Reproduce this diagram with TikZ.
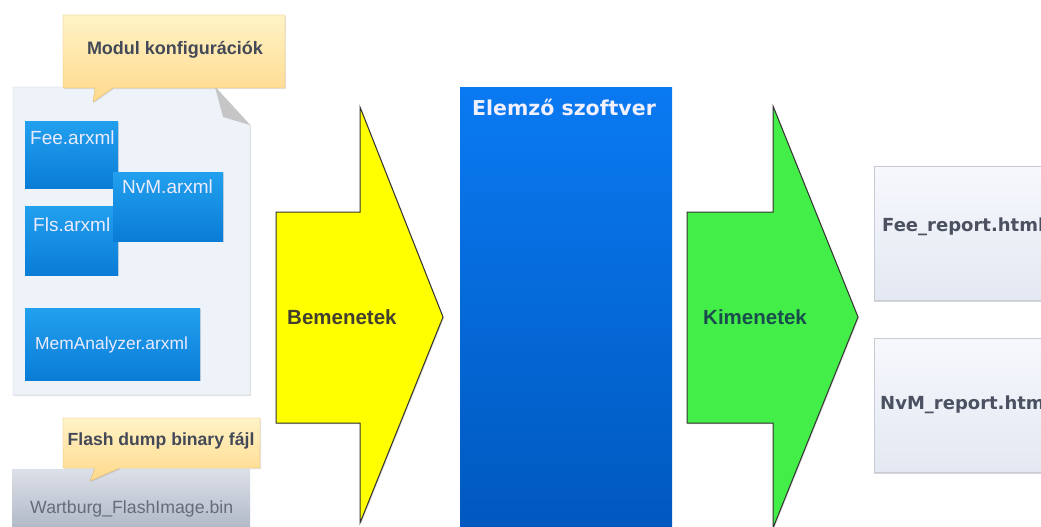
\documentclass[tikz,border=0pt]{standalone}
\usepackage{fontspec}
\setmainfont{Liberation Sans}
\newfontfamily\dejavu{DejaVu Sans}
\usetikzlibrary{shadows}

\definecolor{pageFill}{HTML}{EEF2F9}
\definecolor{pageLine}{HTML}{C6CBD4}
\definecolor{tipTop}{HTML}{FFF3C6}
\definecolor{tipBot}{HTML}{FFD98C}
\definecolor{tipLine}{HTML}{E6B96C}
\definecolor{fileTop}{HTML}{22A0EE}
\definecolor{fileBot}{HTML}{0A7CD6}
\definecolor{binTop}{HTML}{DCE0E8}
\definecolor{binBot}{HTML}{A9B1C1}
\definecolor{swTop}{HTML}{0A7AF2}
\definecolor{swBot}{HTML}{0058BE}
\definecolor{inFill}{HTML}{FFFF00}
\definecolor{outFill}{HTML}{44EE48}
\definecolor{repTop}{HTML}{F6F8FC}
\definecolor{repBot}{HTML}{E3E8F2}
\definecolor{grayText}{HTML}{4B5161}

\tikzset{
  filebox/.style={draw=none, top color=fileTop, bottom color=fileBot, anchor=north west, inner sep=0pt,
    drop shadow={shadow xshift=1pt, shadow yshift=-1pt, opacity=0.25}},
  filetext/.style={text=white!92!blue, anchor=north west, inner sep=0pt, font=\fontsize{19}{19}\selectfont},
  tipbox/.style={draw=tipLine, top color=tipTop, bottom color=tipBot,
    drop shadow={shadow xshift=1pt, shadow yshift=-1pt, opacity=0.2}},
  tiptext/.style={text=grayText!90!black, inner sep=0pt, font=\bfseries\fontsize{18}{18}\selectfont},
  reportbox/.style={draw=pageLine, top color=repTop, bottom color=repBot,
    drop shadow={shadow xshift=0pt, shadow yshift=-2pt, opacity=0.3}},
  reporttext/.style={text=grayText, anchor=west, inner sep=0pt, font=\dejavu\bfseries\fontsize{18}{18}\selectfont},
  arrowtext/.style={anchor=west, inner sep=0pt, font=\bfseries\fontsize{20.5}{20.5}\selectfont}
}

\begin{document}
\begin{tikzpicture}[x=1pt, y=-1pt]
    \useasboundingbox (0,0) rectangle (1041,527);
    \clip (0,0) rectangle (1041,527);
    \fill[white] (0,0) rectangle (1041,527);

    % Input page with config files
    \draw[pageLine, fill=pageFill, drop shadow={shadow xshift=1pt, shadow yshift=-1pt, opacity=0.2}]
        (13,87) -- (215,87) -- (250,125) -- (250,395) -- (13,395) -- cycle;
    \fill[gray!45] (215,87) -- (250,125) -- (223,117) -- cycle;

    \node[filebox, minimum width=93pt, minimum height=67pt] (fee) at (25,121) {};
    \node[filebox, minimum width=93pt, minimum height=69pt] (fls) at (25,206) {};
    \node[filebox, minimum width=110pt, minimum height=69pt] (nvm) at (113,172) {};
    \node[filebox, minimum width=175pt, minimum height=72pt] (mem) at (25,308) {};
    \node[filetext] (feetxt) at (30,131) {Fee.arxml};
    \node[filetext] (flstxt) at (33,218) {Fls.arxml};
    \node[filetext] (nvmtxt) at (122,180) {NvM.arxml};
    \node[filetext, font=\fontsize{17.4}{17.4}\selectfont] (memtxt) at (35,337) {MemAnalyzer.arxml};

    % Callout over the page
    \draw[tipbox] (63,15) -- (285,15) -- (285,88) -- (113,88) -- (93,102) -- (95,88) -- (63,88) -- cycle;
    \node[tiptext] (modcfg) at (175,50) {Modul konfigurációk};

    % Binary dump
    \node[draw=none, top color=binTop, bottom color=binBot, anchor=north west, inner sep=0pt,
          minimum width=238pt, minimum height=70pt] (binbox) at (12,469) {};
    \node[text=grayText!85, anchor=west, inner sep=0pt, font=\fontsize{17.7}{17.7}\selectfont] (bintxt) at (30,509) {Wartburg\_FlashImage.bin};
    \draw[tipbox] (63,418) -- (260,418) -- (260,468) -- (120,468) -- (90,481) -- (95,468) -- (63,468) -- cycle;
    \node[tiptext, font=\bfseries\fontsize{17.6}{17.6}\selectfont] (flashtip) at (161,441) {Flash dump binary fájl};

    % Input arrow
    \draw[fill=inFill, draw=black!80, line width=1pt, drop shadow={shadow xshift=1pt, shadow yshift=-1pt, opacity=0.3}]
        (276,212) -- (360,212) -- (360,107) -- (443,317) -- (360,523) -- (360,423) -- (276,423) -- cycle;
    \node[arrowtext, text=black!70!olive] (inputs) at (287,317) {Bemenetek};

    % Analyzer software
    \node[draw=none, top color=swTop, bottom color=swBot, anchor=north west, inner sep=0pt,
          minimum width=212pt, minimum height=445pt] (software) at (460,87) {};
    \node[text=white!94!blue, anchor=base, inner sep=0pt, font=\dejavu\bfseries\fontsize{20.5}{20.5}\selectfont] (swtitle) at (564,115) {Elemző szoftver};

    % Output arrow
    \draw[fill=outFill, draw=black!80, line width=1pt, drop shadow={shadow xshift=1pt, shadow yshift=-1pt, opacity=0.3}]
        (687,212) -- (773,212) -- (773,106) -- (858,317) -- (773,528) -- (773,423) -- (687,423) -- cycle;
    \node[arrowtext, text=black!50!teal!80!gray] (outputs) at (703,317) {Kimenetek};

    % Reports
    \draw[reportbox] (874,166) rectangle (1060,300);
    \draw[reportbox] (874,338) rectangle (1060,472);
    \node[reporttext] (feerep) at (882,227) {Fee\_report.html};
    \node[reporttext] (nvmrep) at (880,405) {NvM\_report.html};
\end{tikzpicture}
\end{document}
